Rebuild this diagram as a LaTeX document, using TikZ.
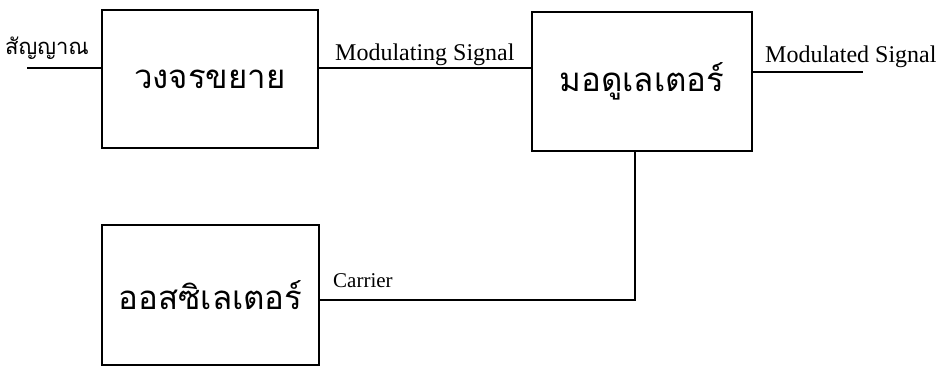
\documentclass[tikz,border=0pt]{standalone}
\usepackage{fontspec}
\setmainfont{Liberation Serif}
\newfontfamily\thaifont[Script=Thai]{Loma}
\usetikzlibrary{positioning}

\begin{document}
\begin{tikzpicture}[
  x=1pt,y=1pt,
  every node/.style={inner sep=0pt},
  block/.style={rectangle,draw,line width=2.6pt,minimum width=216pt,
    minimum height=138pt,font=\thaifont\fontsize{33}{36}\selectfont},
  wire/.style={line width=2.6pt},
  sig/.style={font=\fontsize{24}{26}\selectfont,anchor=base west}
]
\useasboundingbox (0,0) rectangle (946,-367);
\node[block] (amp) at (210,-79) {วงจรขยาย};
\node[block,minimum width=220pt,minimum height=139pt] (mod) at (642,-81.5) {มอดูเลเตอร์};
\node[block,minimum width=217pt,minimum height=140pt] (osc) at (210.5,-295) {ออสซิเลเตอร์};
\coordinate (in) at (27,-68);
\coordinate (out) at (863,-72);
\coordinate (car) at (635,-300);
% connectors
\draw[wire] (in) -- (in -| amp.west);
\draw[wire] (in -| amp.east) -- (in -| mod.west);
\draw[wire] (out -| mod.east) -- (out);
\draw[wire] (car -| osc.east) -- (car) -- (car |- mod.south);
% labels
\node[sig,font=\thaifont\fontsize{22}{24}\selectfont] (inlbl) at (5,-54) {สัญญาณ};
\node[sig] (modlbl) at (335,-60) {Modulating Signal};
\node[sig] (outlbl) at (765,-62) {Modulated Signal};
\node[sig,font=\fontsize{21}{23}\selectfont] (carlbl) at (333,-287) {Carrier};
\end{tikzpicture}
\end{document}
